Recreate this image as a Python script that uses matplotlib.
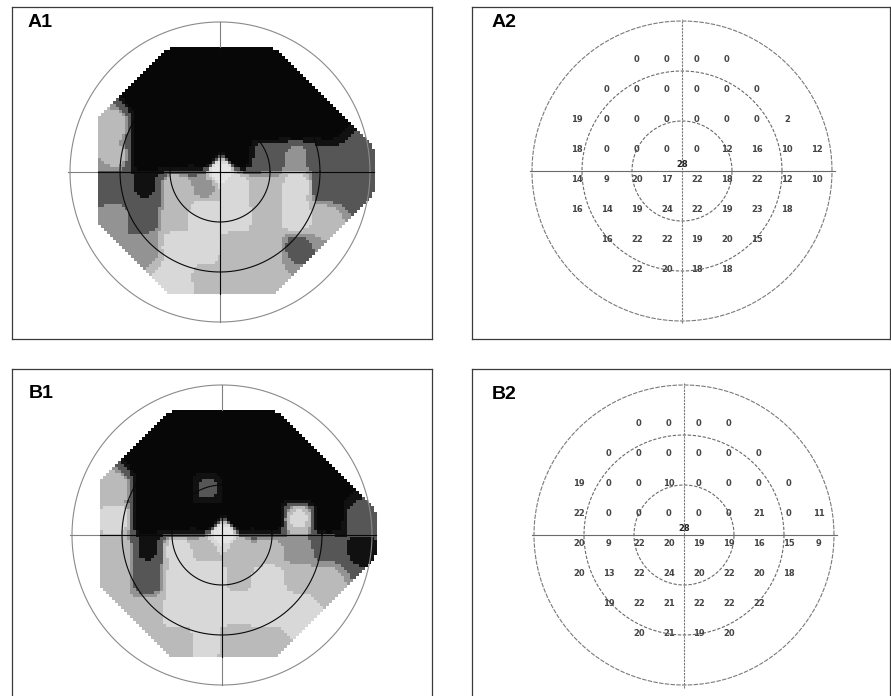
import numpy as np
import matplotlib
matplotlib.use("Agg")
import matplotlib.pyplot as plt
from matplotlib.path import Path

# ---------------- data (24-2 threshold values, dB) ----------------
row_y = [21, 15, 9, 3, -3, -9, -15, -21]
row_x_first = [-9, -15, -21, -21, -21, -21, -15, -9]

a_values = [
    [0, 0, 0, 0],
    [0, 0, 0, 0, 0, 0],
    [19, 0, 0, 0, 0, 0, 0, 2],
    [18, 0, 0, 0, 0, 12, 16, 10, 12],
    [14, 9, 20, 17, 22, 18, 22, 12, 10],
    [16, 14, 19, 24, 22, 19, 23, 18],
    [16, 22, 22, 19, 20, 15],
    [22, 20, 18, 18],
]
a_fovea = 28

b_values = [
    [0, 0, 0, 0],
    [0, 0, 0, 0, 0, 0],
    [19, 0, 0, 10, 0, 0, 0, 0],
    [22, 0, 0, 0, 0, 0, 21, 0, 11],
    [20, 9, 22, 20, 19, 19, 16, 15, 9],
    [20, 13, 22, 24, 20, 22, 20, 18],
    [19, 22, 21, 22, 22, 22],
    [20, 21, 19, 20],
]
b_fovea = 28

panel_labels = ["A1", "A2", "B1", "B2"]

# grey levels for threshold bins (dB)
bin_edges = [4.5, 9.5, 15.5, 17.5, 20.5, 25.5]
grey_levels = [0.03, 0.07, 0.34, 0.58, 0.73, 0.85, 0.90]
DARK = "#080808"

# ---------------- helpers ----------------
SPACING = 6


def points_of(values):
    xs, ys, vs = [], [], []
    for y, x0, row in zip(row_y, row_x_first, values):
        for i, v in enumerate(row):
            xs.append(x0 + SPACING * i)
            ys.append(y)
            vs.append(v)
    return np.array(xs, float), np.array(ys, float), np.array(vs, float)


def convex_hull(px, py):
    pts = sorted(set(zip(px.tolist(), py.tolist())))

    def cross(o, a, b):
        return (a[0] - o[0]) * (b[1] - o[1]) - (a[1] - o[1]) * (b[0] - o[0])

    lower, upper = [], []
    for p in pts:
        while len(lower) >= 2 and cross(lower[-2], lower[-1], p) <= 0:
            lower.pop()
        lower.append(p)
    for p in reversed(pts):
        while len(upper) >= 2 and cross(upper[-2], upper[-1], p) <= 0:
            upper.pop()
        upper.append(p)
    return np.array(lower[:-1] + upper[:-1])


def grey_map(values, fovea, res=0.6, radius=3.6):
    px, py, pv = points_of(values)
    px = np.append(px, 0.0)
    py = np.append(py, 0.0)
    pv = np.append(pv, fovea)
    gx = np.arange(-32, 32 + res / 2, res)
    gy = np.arange(-32, 32 + res / 2, res)
    GX, GY = np.meshgrid(gx, gy)
    d2 = (GX[..., None] - px) ** 2 + (GY[..., None] - py) ** 2
    w = 1.0 / np.maximum(d2, 1e-6) ** 2.2
    val = (w * pv).sum(-1) / w.sum(-1)
    hull = convex_hull(px, py)
    path = Path(hull)
    flat = np.column_stack([GX.ravel(), GY.ravel()])
    inside = path.contains_points(flat).reshape(GX.shape)
    dmin = np.full(GX.shape, np.inf)
    for i in range(len(hull)):
        a = hull[i]
        b = hull[(i + 1) % len(hull)]
        ab = b - a
        t = ((GX - a[0]) * ab[0] + (GY - a[1]) * ab[1]) / (ab @ ab)
        t = np.clip(t, 0, 1)
        cx = a[0] + t * ab[0]
        cy = a[1] + t * ab[1]
        dmin = np.minimum(dmin, np.hypot(GX - cx, GY - cy))
    mask = inside | (dmin <= radius)
    grey = np.array(grey_levels)[np.digitize(val, bin_edges)]
    rgba = np.ones(GX.shape + (4,))
    rgba[..., 0] = grey
    rgba[..., 1] = grey
    rgba[..., 2] = grey
    rgba[..., 3] = np.where(mask, 1.0, 0.0)
    extent = (gx[0] - res / 2, gx[-1] + res / 2, gy[0] - res / 2, gy[-1] + res / 2)
    row0 = np.argmin(np.abs(gy))
    col0 = np.argmin(np.abs(gx))
    hx = gx[mask[row0]]
    vy = gy[mask[:, col0]]
    span = (hx.min() - res / 2, hx.max() + res / 2, vy.min() - res / 2, vy.max() + res / 2)
    return rgba, extent, span


# ---------------- layout (pixels) ----------------
W, H = 891, 696
PX_PER_DEG = 5.0
frames = {"A1": (12, 7, 432, 339), "A2": (472, 7, 890, 339),
          "B1": (12, 369, 432, 698), "B2": (472, 369, 890, 698)}
centres = {"A1": (220, 172), "A2": (682, 171), "B1": (222, 535), "B2": (684, 535)}
label_pos = {"A1": (28, 14), "A2": (492, 14), "B1": (29, 385), "B2": (492, 386)}

plt.rcParams["font.family"] = ["Liberation Sans", "DejaVu Sans"]
fig = plt.figure(figsize=(W / 100, H / 100), dpi=100)


def make_axes(name):
    x0, y0, x1, y1 = frames[name]
    cx, cy = centres[name]
    ax = fig.add_axes([x0 / W, 1 - y1 / H, (x1 - x0) / W, (y1 - y0) / H])
    ax.set_xlim((x0 - cx) / PX_PER_DEG, (x1 - cx) / PX_PER_DEG)
    ax.set_ylim((cy - y1) / PX_PER_DEG, (cy - y0) / PX_PER_DEG)
    ax.set_xticks([])
    ax.set_yticks([])
    for s in ax.spines.values():
        s.set_linewidth(0.9)
        s.set_color("#3a3a3a")
    lx, ly = label_pos[name]
    ax.text((lx - x0) / (x1 - x0), 1 - (ly - y0) / (y1 - y0), name,
            transform=ax.transAxes, ha="left", va="top",
            fontsize=14, fontweight="bold", color="black")
    return ax


theta = np.linspace(0, 2 * np.pi, 400)


def draw_greyscale(ax, values, fovea):
    rgba, extent, (xl, xr, yb, yt) = grey_map(values, fovea)
    ax.imshow(rgba, extent=extent, origin="lower", interpolation="nearest", zorder=1)
    ax.plot(30 * np.cos(theta), 30 * np.sin(theta), color="#8a8a8a", lw=0.8, zorder=2)
    for r in (10, 20):
        ax.plot(r * np.cos(theta), r * np.sin(theta), color=DARK, lw=0.8, zorder=2)
    gc = "#808080"
    ax.plot([-30.5, xl], [0, 0], color=gc, lw=0.8, zorder=3)
    ax.plot([xr, 30.5], [0, 0], color=gc, lw=0.8, zorder=3)
    ax.plot([0, 0], [-30, yb], color=gc, lw=0.8, zorder=3)
    ax.plot([0, 0], [yt, 30], color=gc, lw=0.8, zorder=3)
    ax.plot([xl, xr], [0, 0], color=DARK, lw=0.8, zorder=3)
    ax.plot([0, 0], [yb, yt], color=DARK, lw=0.8, zorder=3)


def draw_numeric(ax, values, fovea):
    ax.plot(30 * np.cos(theta), 30 * np.sin(theta), color="#7a7a7a", lw=0.8,
            ls=(0, (4, 1.2)), zorder=2)
    for r in (10, 20):
        ax.plot(r * np.cos(theta), r * np.sin(theta), color="#6a6a6a", lw=0.8,
                ls=(0, (3, 1.5)), zorder=2)
    ax.plot([-30.5, 30.5], [0, 0], color="#6a6a6a", lw=0.8, zorder=2)
    ax.plot([0, 0], [-30.5, 30.5], color="#777777", lw=0.8, ls=(0, (2, 1)), zorder=2)
    px, py, pv = points_of(values)
    for x, y, v in zip(px, py, pv):
        ax.text(x, y + 1.4, f"{int(v)}", ha="center", va="center", fontsize=6,
                fontweight="bold", color="#444444", family="DejaVu Sans", zorder=3)
    ax.text(0, 1.3, f"{fovea}", ha="center", va="center", fontsize=6,
            fontweight="bold", color="#222222", family="DejaVu Sans", zorder=3)


draw_greyscale(make_axes("A1"), a_values, a_fovea)
draw_numeric(make_axes("A2"), a_values, a_fovea)
draw_greyscale(make_axes("B1"), b_values, b_fovea)
draw_numeric(make_axes("B2"), b_values, b_fovea)

fig.savefig("out.png", dpi=100)
